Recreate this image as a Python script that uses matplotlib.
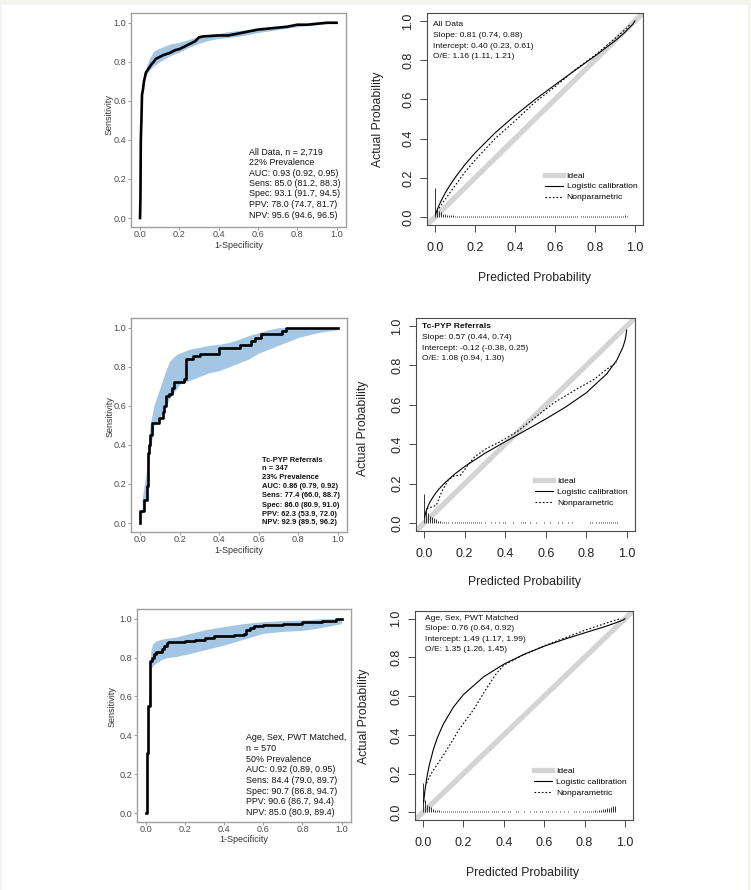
import numpy as np
import matplotlib
matplotlib.use("Agg")
import matplotlib.pyplot as plt
from matplotlib.lines import Line2D
from matplotlib.patches import Rectangle

plt.rcParams['font.family'] = ['Liberation Sans', 'DejaVu Sans']

W, H = 751, 890

# ---------------- ROC data (1-specificity, sensitivity) ----------------
all_fpr = [0, 0.002, 0.004, 0.007, 0.01, 0.015, 0.02, 0.03, 0.04, 0.05, 0.06, 0.07, 0.08, 0.1,
           0.12, 0.15, 0.18, 0.2, 0.22, 0.25, 0.28, 0.3, 0.32, 0.4, 0.45, 0.5, 0.55, 0.6, 0.65,
           0.7, 0.75, 0.8, 0.85, 0.9, 0.95, 1.0]
all_tpr = [0, 0.1, 0.4, 0.5, 0.63, 0.66, 0.70, 0.745, 0.76, 0.775, 0.79, 0.80, 0.815, 0.825,
           0.835, 0.845, 0.86, 0.865, 0.875, 0.89, 0.905, 0.925, 0.93, 0.935, 0.935, 0.945, 0.955,
           0.965, 0.97, 0.975, 0.98, 0.99, 0.99, 0.995, 1.0, 1.0]
all_ci_x = [0.03, 0.05, 0.07, 0.1, 0.15, 0.2, 0.25, 0.3, 0.35, 0.4, 0.45, 0.5, 0.55, 0.6, 0.7, 0.8, 0.9, 1.0]
all_ci_lo = [0.73, 0.76, 0.78, 0.80, 0.83, 0.85, 0.875, 0.895, 0.91, 0.92, 0.925, 0.93, 0.94, 0.95,
             0.965, 0.98, 0.99, 1.0]
all_ci_hi = [0.77, 0.82, 0.855, 0.87, 0.89, 0.90, 0.915, 0.93, 0.94, 0.945, 0.955, 0.96, 0.965, 0.97,
             0.98, 0.99, 0.995, 1.0]

pyp_fpr = [0, 0, 0.02, 0.035, 0.04, 0.045, 0.05, 0.06, 0.095, 0.115, 0.12, 0.13, 0.145, 0.16, 0.17,
           0.22, 0.235, 0.27, 0.305, 0.4, 0.505, 0.56, 0.58, 0.61, 0.72, 0.74, 1.0]
pyp_tpr = [0, 0.06, 0.12, 0.19, 0.36, 0.40, 0.45, 0.51, 0.54, 0.57, 0.60, 0.65, 0.66, 0.69, 0.72,
           0.74, 0.84, 0.855, 0.865, 0.895, 0.91, 0.93, 0.95, 0.97, 0.985, 1.0, 1.0]
pyp_ci_x = [0.01, 0.03, 0.05, 0.07, 0.10, 0.13, 0.15, 0.18, 0.20, 0.25, 0.30, 0.35, 0.40, 0.45, 0.50,
            0.55, 0.60, 0.65, 0.70, 0.80, 0.90, 1.0]
pyp_ci_lo = [0.04, 0.12, 0.36, 0.50, 0.54, 0.60, 0.64, 0.68, 0.71, 0.73, 0.75, 0.77, 0.78, 0.80, 0.82,
             0.84, 0.87, 0.89, 0.91, 0.95, 0.975, 0.99]
pyp_ci_hi = [0.12, 0.25, 0.50, 0.60, 0.69, 0.78, 0.83, 0.86, 0.87, 0.89, 0.90, 0.91, 0.915, 0.925, 0.94,
             0.96, 0.975, 0.99, 1.0, 1.0, 1.0, 1.0]

mat_fpr = [0, 0.003, 0.012, 0.02, 0.03, 0.04, 0.05, 0.08, 0.09, 0.105, 0.11, 0.2, 0.25, 0.3, 0.35,
           0.45, 0.5, 0.51, 0.53, 0.55, 0.6, 0.7, 0.8, 0.9, 0.97, 1.0]
mat_tpr = [0, 0.31, 0.55, 0.78, 0.80, 0.82, 0.83, 0.845, 0.86, 0.875, 0.88, 0.885, 0.89, 0.90, 0.91,
           0.915, 0.92, 0.94, 0.95, 0.965, 0.97, 0.975, 0.985, 0.99, 1.0, 1.0]
mat_ci_x = [0.005, 0.015, 0.025, 0.035, 0.05, 0.08, 0.11, 0.15, 0.2, 0.3, 0.4, 0.5, 0.6, 0.7, 0.8, 0.9, 1.0]
mat_ci_lo = [0.24, 0.45, 0.74, 0.76, 0.77, 0.79, 0.80, 0.805, 0.815, 0.84, 0.865, 0.895, 0.925, 0.935,
             0.94, 0.955, 0.975]
mat_ci_hi = [0.40, 0.62, 0.84, 0.87, 0.885, 0.895, 0.90, 0.905, 0.918, 0.943, 0.96, 0.975, 0.985, 0.99,
             0.993, 1.0, 1.0]

all_roc_text = ["All Data, n = 2,719", "22% Prevalence", "AUC: 0.93 (0.92, 0.95)",
                "Sens: 85.0 (81.2, 88.3)", "Spec: 93.1 (91.7, 94.5)", "PPV: 78.0 (74.7, 81.7)",
                "NPV: 95.6 (94.6, 96.5)"]
pyp_roc_text = ["Tc-PYP Referrals", "n = 347", "23% Prevalence", "AUC: 0.86 (0.79, 0.92)",
                "Sens: 77.4 (66.0, 88.7)", "Spec: 86.0 (80.9, 91.0)", "PPV: 62.3 (53.9, 72.0)",
                "NPV: 92.9 (89.5, 96.2)"]
mat_roc_text = ["Age, Sex, PWT Matched,", "n = 570", "50% Prevalence", "AUC: 0.92 (0.89, 0.95)",
                "Sens: 84.4 (79.0, 89.7)", "Spec: 90.7 (86.8, 94.7)", "PPV: 90.6 (86.7, 94.4)",
                "NPV: 85.0 (80.9, 89.4)"]

# ---------------- calibration data ----------------
all_log_p = [0.003, 0.005, 0.01, 0.02, 0.03, 0.05, 0.07, 0.1, 0.15, 0.2, 0.3, 0.4, 0.5, 0.6, 0.7,
             0.8, 0.9, 0.95, 0.99, 1.0]
all_log_y = [0.013, 0.02, 0.035, 0.06, 0.082, 0.121, 0.155, 0.201, 0.268, 0.327, 0.429, 0.518, 0.599,
             0.674, 0.748, 0.821, 0.898, 0.942, 0.984, 1.0]
all_np_p = [0.02, 0.05, 0.1, 0.15, 0.2, 0.3, 0.4, 0.5, 0.6, 0.7, 0.8, 0.9, 0.95, 0.98]
all_np_y = [0.045, 0.09, 0.16, 0.23, 0.29, 0.40, 0.49, 0.585, 0.665, 0.75, 0.825, 0.91, 0.955, 0.985]
all_spikes = [0.150, 0.048, 0.032, 0.024, 0.018, 0.015, 0.012, 0.011, 0.010, 0.009,
              0.008, 0.008, 0.007, 0.007, 0.006, 0.006, 0.006, 0.005, 0.005, 0.005,
              0.005, 0.005, 0.005, 0.005, 0.005, 0.005, 0.005, 0.005, 0.005, 0.005,
              0.004, 0.004, 0.004, 0.004, 0.004, 0.004, 0.004, 0.004, 0.004, 0.004,
              0.004, 0.004, 0.004, 0.004, 0.004, 0.004, 0.004, 0.004, 0.004, 0.004,
              0.004, 0.004, 0.004, 0.004, 0.004, 0.004, 0.004, 0.004, 0.004, 0.004,
              0.004, 0.004, 0.004, 0.004, 0.004, 0.004, 0.004, 0.004, 0.004, 0.004,
              0.004, 0.004, 0.000, 0.004, 0.004, 0.004, 0.004, 0.004, 0.004, 0.004,
              0.004, 0.004, 0.004, 0.004, 0.004, 0.004, 0.004, 0.004, 0.004, 0.004,
              0.004, 0.005, 0.006, 0.007, 0.008, 0.009, 0.006, 0.003, 0.000, 0.000]

pyp_log_p = [0.003, 0.005, 0.01, 0.02, 0.03, 0.05, 0.07, 0.1, 0.15, 0.2, 0.3, 0.4, 0.5, 0.6, 0.7,
             0.8, 0.9, 0.95, 0.98, 0.99, 0.995, 0.999]
pyp_log_y = [0.031, 0.042, 0.061, 0.088, 0.109, 0.142, 0.169, 0.202, 0.248, 0.287, 0.354, 0.413,
             0.470, 0.528, 0.590, 0.661, 0.756, 0.826, 0.891, 0.924, 0.948, 0.978]
pyp_np_p = [0.013, 0.06, 0.087, 0.12, 0.15, 0.18, 0.21, 0.25, 0.31, 0.36, 0.41, 0.46, 0.54, 0.64,
            0.75, 0.84, 0.9, 0.95]
pyp_np_y = [0.073, 0.09, 0.16, 0.22, 0.24, 0.243, 0.286, 0.337, 0.38, 0.405, 0.434, 0.465, 0.53,
            0.61, 0.678, 0.73, 0.78, 0.815]
pyp_spikes = [0.150, 0.065, 0.050, 0.035, 0.030, 0.025, 0.020, 0.013, 0.010, 0.008,
              0.008, 0.006, 0.006, 0.000, 0.005, 0.005, 0.004, 0.004, 0.004, 0.004,
              0.004, 0.004, 0.004, 0.004, 0.004, 0.004, 0.004, 0.004, 0.004, 0.000,
              0.004, 0.000, 0.000, 0.004, 0.000, 0.004, 0.000, 0.004, 0.000, 0.004,
              0.004, 0.000, 0.000, 0.000, 0.004, 0.000, 0.000, 0.000, 0.004, 0.004,
              0.004, 0.000, 0.004, 0.000, 0.000, 0.004, 0.000, 0.000, 0.000, 0.004,
              0.000, 0.000, 0.004, 0.000, 0.000, 0.000, 0.004, 0.000, 0.004, 0.000,
              0.000, 0.004, 0.000, 0.004, 0.000, 0.000, 0.000, 0.000, 0.000, 0.000,
              0.000, 0.000, 0.004, 0.004, 0.000, 0.004, 0.004, 0.004, 0.005, 0.004,
              0.005, 0.006, 0.005, 0.006, 0.006, 0.005, 0.000, 0.000, 0.000, 0.000]

mat_log_p = [0.003, 0.005, 0.01, 0.02, 0.03, 0.05, 0.07, 0.1, 0.15, 0.2, 0.3, 0.4, 0.5, 0.6, 0.7,
             0.8, 0.9, 0.95, 0.99, 1.0]
mat_log_y = [0.051, 0.074, 0.119, 0.187, 0.240, 0.321, 0.383, 0.455, 0.543, 0.608, 0.700, 0.765,
             0.816, 0.858, 0.894, 0.927, 0.959, 0.977, 0.993, 1.0]
mat_np_p = [0.017, 0.04, 0.066, 0.116, 0.18, 0.25, 0.32, 0.365, 0.4, 0.5, 0.6, 0.7, 0.8, 0.9, 0.96, 0.98]
mat_np_y = [0.15, 0.2, 0.24, 0.32, 0.43, 0.53, 0.65, 0.72, 0.76, 0.815, 0.86, 0.9, 0.94, 0.975, 0.995, 1.0]
mat_spikes = [0.150, 0.065, 0.040, 0.032, 0.025, 0.018, 0.014, 0.012, 0.010, 0.009,
              0.008, 0.007, 0.007, 0.006, 0.006, 0.005, 0.005, 0.005, 0.005, 0.004,
              0.004, 0.004, 0.004, 0.004, 0.004, 0.004, 0.004, 0.004, 0.004, 0.004,
              0.004, 0.004, 0.004, 0.000, 0.004, 0.004, 0.004, 0.004, 0.000, 0.004,
              0.004, 0.000, 0.004, 0.004, 0.000, 0.000, 0.004, 0.004, 0.000, 0.000,
              0.004, 0.000, 0.000, 0.004, 0.000, 0.004, 0.004, 0.000, 0.004, 0.004,
              0.000, 0.004, 0.004, 0.000, 0.004, 0.000, 0.004, 0.000, 0.004, 0.000,
              0.004, 0.000, 0.004, 0.000, 0.000, 0.004, 0.004, 0.004, 0.000, 0.004,
              0.004, 0.005, 0.005, 0.006, 0.008, 0.010, 0.008, 0.012, 0.010, 0.015,
              0.018, 0.020, 0.022, 0.028, 0.030, 0.030, 0.000, 0.000, 0.000, 0.000]
spike_bins = np.arange(len(all_spikes)) / 100.0

all_cal_text = ["All Data", "Slope: 0.81 (0.74, 0.88)", "Intercept: 0.40 (0.23, 0.61)",
                "O/E: 1.16 (1.11, 1.21)"]
pyp_cal_text = ["Tc-PYP Referrals", "Slope: 0.57 (0.44, 0.74)", "Intercept: -0.12 (-0.38, 0.25)",
                "O/E: 1.08 (0.94, 1.30)"]
mat_cal_text = ["Age, Sex, PWT Matched", "Slope: 0.76 (0.64, 0.92)", "Intercept: 1.49 (1.17, 1.99)",
                "O/E: 1.35 (1.26, 1.45)"]

ticks = [0, 0.2, 0.4, 0.6, 0.8, 1.0]
tick_labels = ["0.0", "0.2", "0.4", "0.6", "0.8", "1.0"]


def px_rect(x0, y0, x1, y1):
    return [x0 / W, 1 - y1 / H, (x1 - x0) / W, (y1 - y0) / H]


def ftext(x, y, s, **kw):
    fig.text(x / W, 1 - y / H, s, **kw)


fig = plt.figure(figsize=(W / 100, H / 100), dpi=100, facecolor='#f4f4ec')
fig.patches.append(Rectangle((2 / W, 0), 746 / W, 885 / H, transform=fig.transFigure,
                             facecolor='white', edgecolor='none', zorder=-10))


def roc_panel(box, fpr, tpr, cx, clo, chi, lines, tx, ty, tstep, tsize, bold, step,
              ylab_xy, xlab_xy):
    ax = fig.add_axes(px_rect(*box))
    ax.fill_between(cx, clo, chi, color='#a2c6e3', lw=0)
    if step:
        ax.step(fpr, tpr, where='post', color='black', lw=1.9)
    else:
        ax.plot(fpr, tpr, color='black', lw=1.9)
    ax.set_xlim(-0.046, 1.048)
    ax.set_ylim(-0.046, 1.05)
    ax.set_xticks(ticks)
    ax.set_xticklabels(tick_labels)
    ax.set_yticks(ticks)
    ax.set_yticklabels(tick_labels)
    for sp in ax.spines.values():
        sp.set_color('#a0a0a0')
        sp.set_linewidth(1.0)
    ax.tick_params(direction='out', length=2.2, width=0.8, color='#a0a0a0', labelsize=6.6,
                   labelcolor='#4d4d4d')
    ax.tick_params(axis='x', pad=0.3)
    ax.tick_params(axis='y', pad=1.2)
    for i, s in enumerate(lines):
        yy = ty[i] if isinstance(ty, list) else ty + i * tstep
        ftext(tx, yy, s, fontsize=tsize, va='center', ha='left', color='#111111',
              fontweight='bold' if bold else 'normal')
    ftext(ylab_xy[0], ylab_xy[1], "Sensitivity", fontsize=6.5, rotation=90, va='center',
          ha='center', color='#333333')
    ftext(xlab_xy[0], xlab_xy[1], "1-Specificity", fontsize=6.5, va='center', ha='center',
          color='#333333')
    return ax


def cal_panel(box, lp, ly, npp, npy, spikes, lines, tx, ty, title_bold, xlab_xy, ylab_xy):
    ax = fig.add_axes(px_rect(*box))
    ax.axline((0, 0), (1, 1), color='#d4d4d4', lw=3.8, zorder=1, solid_capstyle='butt')
    ax.vlines(spike_bins, 0, spikes, color='#333333', lw=0.7, zorder=2)
    ax.plot(lp, ly, color='black', lw=0.8, zorder=3)
    ax.plot(npp, npy, color='black', lw=0.8, ls=(0, (1.5, 1.8)), zorder=3)
    ax.set_xlim(-0.04, 1.04)
    ax.set_ylim(-0.04, 1.04)
    ax.set_xticks(ticks)
    ax.set_xticklabels(tick_labels)
    ax.set_yticks(ticks)
    ax.set_yticklabels(tick_labels, rotation=90, va='center')
    for sp in ax.spines.values():
        sp.set_color('#4a4a4a')
        sp.set_linewidth(0.8)
    ax.tick_params(direction='out', length=5, width=0.7, color='#4a4a4a', labelsize=9,
                   labelcolor='#222222')
    ax.tick_params(axis='x', pad=7.5)
    ax.tick_params(axis='y', pad=4)
    handles = [Line2D([], [], color='#d4d4d4', lw=3.8),
               Line2D([], [], color='black', lw=0.8),
               Line2D([], [], color='black', lw=0.8, ls=(0, (1.5, 1.8)))]
    ax.legend(handles, ["Ideal", "Logistic calibration", "Nonparametric"], loc='upper left',
              bbox_to_anchor=(0.545, 0.252), frameon=False, fontsize=6.1, borderpad=0,
              handlelength=2.1, handletextpad=0.5, labelspacing=0.36, borderaxespad=0)
    for i, s in enumerate(lines):
        ftext(tx, ty + i * 10.6, s, fontsize=6.1, va='center', ha='left', color='#111111',
              fontweight='bold' if (i == 0 and title_bold) else 'normal')
    ftext(xlab_xy[0], xlab_xy[1], "Predicted Probability", fontsize=8.8, va='center',
          ha='center', color='#222222')
    ftext(ylab_xy[0], ylab_xy[1], "Actual Probability", fontsize=8.8, rotation=90,
          va='center', ha='center', color='#222222')
    return ax


# left column: ROC curves
roc_panel((131, 13, 346, 227), all_fpr, all_tpr, all_ci_x, all_ci_lo, all_ci_hi, all_roc_text,
          249, 152, 10.5, 6.4, False, False, (109, 115), (239, 245.5))
roc_panel((131, 318, 347, 532), pyp_fpr, pyp_tpr, pyp_ci_x, pyp_ci_lo, pyp_ci_hi, pyp_roc_text,
          262, [461, 468.5, 477.5, 486.5, 495.5, 505, 514, 523], 0, 5.4, True, True,
          (110, 417), (239, 550.5))
roc_panel((137, 609, 351, 822), mat_fpr, mat_tpr, mat_ci_x, mat_ci_lo, mat_ci_hi, mat_roc_text,
          246, 738, 10.6, 6.4, False, True, (112, 707), (244, 840))

# right column: calibration curves
cal_panel((427, 13, 643, 225), all_log_p, all_log_y, all_np_p, all_np_y, all_spikes,
          all_cal_text, 433, 25, False, (535, 278), (378, 119))
cal_panel((416, 318, 635, 531), pyp_log_p, pyp_log_y, pyp_np_p, pyp_np_y, pyp_spikes,
          pyp_cal_text, 422, 327, True, (525, 582), (363, 428))
cal_panel((415, 611, 633, 820), mat_log_p, mat_log_y, mat_np_p, mat_np_y, mat_spikes,
          mat_cal_text, 425, 618, False, (523, 873), (364, 716))

fig.savefig("out.png", dpi=100, facecolor=fig.get_facecolor())
